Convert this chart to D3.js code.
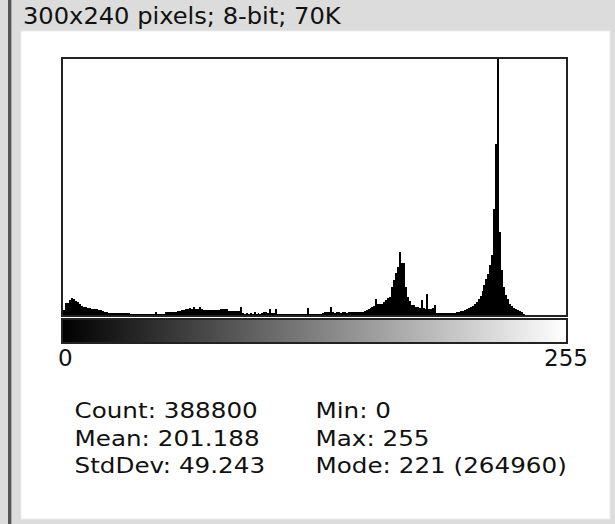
<!DOCTYPE html>
<html>
<head>
<meta charset="utf-8">
<script src="https://cdn.jsdelivr.net/npm/d3@7"></script>
<style>
  html, body { margin: 0; padding: 0; background: #dcdcdc; }
  text { font-family: "DejaVu Sans", sans-serif; fill: #111; }
</style>
</head>
<body>
<div id="chart"></div>
<script>
// histogram counts, one per grey level 0..255
const counts = [
  300, 720, 720, 900, 1020, 960, 840, 780, 660, 540, 480, 480, 420, 420, 360, 360,
  360, 360, 300, 300, 240, 180, 180, 120, 120, 120, 120, 120, 120, 120, 120, 120,
  120, 120, 60, 60, 60, 60, 60, 60, 60, 60, 60, 60, 60, 60, 60, 180,
  60, 60, 60, 60, 180, 180, 180, 180, 180, 180, 240, 240, 300, 300, 360, 360,
  420, 360, 480, 360, 360, 480, 360, 300, 300, 300, 300, 300, 300, 300, 300, 300,
  360, 360, 360, 360, 240, 240, 240, 240, 240, 240, 480, 120, 60, 120, 60, 120,
  60, 180, 60, 120, 60, 120, 180, 180, 120, 360, 120, 120, 360, 60, 60, 60,
  60, 60, 60, 60, 60, 60, 60, 60, 60, 60, 60, 60, 420, 60, 60, 60,
  60, 60, 60, 60, 120, 180, 180, 180, 480, 180, 120, 180, 180, 120, 180, 180,
  120, 180, 180, 180, 180, 180, 180, 180, 180, 240, 300, 360, 420, 480, 540, 960,
  660, 660, 660, 780, 900, 1020, 1080, 1680, 2100, 2520, 2880, 3780, 3120, 3120, 1680, 1080,
  840, 600, 600, 480, 480, 420, 900, 420, 360, 1260, 360, 360, 420, 600, 120, 120,
  120, 120, 120, 120, 120, 120, 120, 120, 180, 180, 240, 240, 300, 360, 420, 480,
  540, 660, 780, 960, 1140, 1440, 1800, 2160, 2460, 3000, 3600, 6360, 10200, 264960, 4980, 2700,
  1680, 1200, 960, 660, 540, 420, 360, 300, 240, 180, 60, 0, 0, 0, 0, 0,
  0, 0, 0, 0, 0, 0, 0, 0, 0, 0, 0, 0, 0, 0, 0, 4
];

const title = "300x240 pixels; 8-bit; 70K";
const axisLabels = ["0", "255"];
const statsLeft = ["Count: 388800", "Mean: 201.188", "StdDev: 49.243"];
const statsRight = ["Min: 0", "Max: 255", "Mode: 221 (264960)"];

const W = 615, H = 524;
const frame = { x0: 62, x1: 567, y0: 58, y1: 316 };

const svg = d3.select("#chart").append("svg")
  .attr("width", W).attr("height", H);

// window chrome
svg.append("rect").attr("width", W).attr("height", H).attr("fill", "#dcdcdc");
svg.append("rect").attr("x", 8).attr("y", 0).attr("width", 3).attr("height", H).attr("fill", "#555");
svg.append("rect").attr("x", 11).attr("y", 0).attr("width", 1).attr("height", H).attr("fill", "#aaa");
svg.append("rect").attr("x", 21).attr("y", 31).attr("width", 589).attr("height", 488)
  .attr("fill", "#fff").attr("stroke", "#ececec").attr("stroke-width", 1);

// the screenshot text is a bit wider than plain DejaVu, so stretch it horizontally
svg.append("text").attr("transform", "translate(23,24) scale(1.05,1)")
  .attr("font-size", 23).text(title);

// ImageJ style scaling: clip the mode if it dwarfs the rest
const sorted = counts.slice().sort((a, b) => b - a);
let yMax = sorted[0];
if (sorted[1] > 0 && sorted[0] > 2 * sorted[1]) yMax = sorted[1] * 1.5;

const x = d3.scaleLinear().domain([0, 256]).range([frame.x0 + 1, frame.x1 - 1]);
const y = d3.scaleLinear().domain([0, yMax]).range([frame.y1 - 1, frame.y0 + 1]).clamp(true);

svg.append("g")
  .attr("shape-rendering", "crispEdges")
  .selectAll("rect")
  .data(counts)
  .enter()
  .append("rect")
  .attr("x", (d, i) => x(i))
  .attr("width", (d, i) => x(i + 1) - x(i))
  .attr("y", d => y(d))
  .attr("height", d => y(0) - y(d))
  .attr("fill", "#000");

svg.append("rect")
  .attr("x", frame.x0).attr("y", frame.y0)
  .attr("width", frame.x1 - frame.x0).attr("height", frame.y1 - frame.y0)
  .attr("fill", "none").attr("stroke", "#222").attr("stroke-width", 2);

// grey ramp
const grad = svg.append("defs").append("linearGradient").attr("id", "ramp");
grad.append("stop").attr("offset", "0%").attr("stop-color", "#000");
grad.append("stop").attr("offset", "100%").attr("stop-color", "#fff");

svg.append("rect")
  .attr("x", frame.x0).attr("y", 319)
  .attr("width", frame.x1 - frame.x0).attr("height", 24)
  .attr("fill", "url(#ramp)").attr("stroke", "#222").attr("stroke-width", 2);

svg.append("text").attr("x", 58).attr("y", 366).attr("font-size", 23).text(axisLabels[0]);
svg.append("text").attr("x", 588).attr("y", 366).attr("font-size", 23)
  .attr("text-anchor", "end").text(axisLabels[1]);

// statistics
svg.selectAll(".sl").data(statsLeft).enter().append("text")
  .attr("transform", (d, i) => `translate(74.5,${418 + i * 27.5}) scale(1.12,1)`)
  .attr("font-size", 22).text(d => d);
svg.selectAll(".sr").data(statsRight).enter().append("text")
  .attr("transform", (d, i) => `translate(315.5,${418 + i * 27.5}) scale(1.12,1)`)
  .attr("font-size", 22).text(d => d);
</script>
</body>
</html>
